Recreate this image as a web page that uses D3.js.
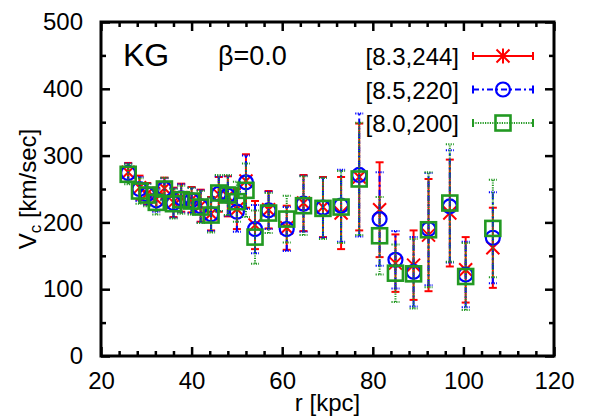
<!DOCTYPE html>
<html>
<head>
<meta charset="utf-8">
<script src="https://cdn.jsdelivr.net/npm/d3@7"></script>
<style>
  body { margin: 0; background: #fff; }
  text { font-family: "Liberation Sans", Arial, sans-serif; fill: #000; }
</style>
</head>
<body>
<svg id="chart" width="598" height="419"></svg>
<script>
// galactocentric radius of each tracer bin
const radius = [26, 28.5, 30.2, 32.2, 34, 36, 37.7, 40, 42, 44.3, 46, 48, 50, 52, 54, 57, 61, 64.7, 69, 73, 77, 81.5, 85, 89, 92.3, 97, 100.5, 106.5];

// [R0, V0] = [8.3, 244]
const vRed = [275, 252, 243, 235, 251, 230, 237, 234, 225, 213, 242, 239, 220, 262, 196, 219, 192, 229, 223, 214, 268, 219, 139, 136, 181, 214, 129, 162];
const eRed = [14, 18, 16, 17, 16, 22, 21, 19, 24, 25, 26, 30, 30, 40, 36, 28, 33, 42, 45, 54, 80, 71, 43, 52, 84, 80, 49, 60];
// [8.5, 220]
const vBlue = [274, 250, 242, 233, 250, 229, 236, 233, 224, 212, 243, 240, 216, 260, 190, 218, 190, 228, 222, 225, 271, 205, 144, 126, 190, 224, 122, 177];
const eBlue = [14, 18, 16, 17, 16, 22, 21, 19, 24, 25, 26, 30, 30, 40, 36, 28, 33, 42, 45, 54, 92, 70, 43, 52, 84, 84, 49, 68];
// [8.0, 200]
const vGreen = [272, 247, 241, 230, 250, 228, 234, 232, 223, 211, 244, 241, 231, 248, 178, 214, 205, 225, 221, 223, 265, 180, 124, 123, 189, 229, 119, 191];
const eGreen = [15, 19, 17, 18, 17, 22, 21, 20, 24, 26, 27, 30, 30, 40, 40, 30, 35, 44, 46, 54, 84, 58, 43, 52, 86, 88, 50, 73];

const legendLabels = ["[8.3,244]", "[8.5,220]", "[8.0,200]"];
const xTicks = [20, 40, 60, 80, 100, 120];
const yTicks = [0, 100, 200, 300, 400, 500];

const svg = d3.select("#chart");
const mLeft = 101, mRight = 554, mTop = 22, mBottom = 356;

const x = d3.scaleLinear().domain([20, 120]).range([mLeft, mRight]);
const y = d3.scaleLinear().domain([0, 500]).range([mBottom, mTop]);

const series = [
  { v: vRed, e: eRed, color: "#ff0000", dash: null, marker: "star" },
  { v: vBlue, e: eBlue, color: "#0000ff", dash: "6,3,2,3", marker: "circle" },
  { v: vGreen, e: eGreen, color: "#229922", dash: "1.2,1.2", marker: "square" }
];

// marker shapes
function drawMarker(g, type, cx, cy, color) {
  if (type === "star") {
    const s = 6.5;
    g.append("path")
      .attr("d", `M${cx - s},${cy - s}L${cx + s},${cy + s}M${cx - s},${cy + s}L${cx + s},${cy - s}M${cx},${cy - s - 1}L${cx},${cy + s + 1}`)
      .attr("stroke", color).attr("stroke-width", 2).attr("fill", "none");
  } else if (type === "circle") {
    g.append("circle").attr("cx", cx).attr("cy", cy).attr("r", 7)
      .attr("stroke", color).attr("stroke-width", 2.2).attr("fill", "none");
  } else {
    g.append("rect").attr("x", cx - 7.5).attr("y", cy - 7.5).attr("width", 15).attr("height", 15)
      .attr("stroke", color).attr("stroke-width", 2.6).attr("fill", "none");
  }
}

// error bars + markers
series.forEach(s => {
  const g = svg.append("g");
  radius.forEach((r, i) => {
    const cx = x(r), y0 = y(s.v[i] - s.e[i]), y1 = y(s.v[i] + s.e[i]);
    g.append("line").attr("x1", cx).attr("x2", cx).attr("y1", y0).attr("y2", y1)
      .attr("stroke", s.color).attr("stroke-width", 2)
      .attr("stroke-dasharray", s.dash);
    [y0, y1].forEach(yy => {
      g.append("line").attr("x1", cx - 4).attr("x2", cx + 4).attr("y1", yy).attr("y2", yy)
        .attr("stroke", s.color).attr("stroke-width", 2)
        .attr("stroke-dasharray", s.dash ? "1.2,1.2" : null);
    });
    drawMarker(g, s.marker, cx, y(s.v[i]), s.color);
  });
});

// axes, ticks pointing inward, mirrored on top and right
const xMinor = d3.range(20, 121, 4).filter(d => d % 20 !== 0);
const yMinor = d3.range(50, 500, 100);

function addAxis(axis, transform) {
  const g = svg.append("g").attr("transform", transform).call(axis);
  g.select(".domain").remove();
  g.selectAll("line").attr("stroke", "#000").attr("stroke-width", 2.5);
  g.selectAll("text").attr("font-size", 24).style("font-family", "Liberation Sans, Arial, sans-serif");
  return g;
}

addAxis(d3.axisBottom(x).tickValues(xTicks).tickSize(-9).tickPadding(16), `translate(0,${mBottom})`);
addAxis(d3.axisBottom(x).tickValues(xMinor).tickSize(-5).tickFormat(""), `translate(0,${mBottom})`);
addAxis(d3.axisTop(x).tickValues(xTicks).tickSize(-9).tickFormat(""), `translate(0,${mTop})`);
addAxis(d3.axisTop(x).tickValues(xMinor).tickSize(-5).tickFormat(""), `translate(0,${mTop})`);
addAxis(d3.axisLeft(y).tickValues(yTicks).tickSize(-9).tickPadding(18), `translate(${mLeft},0)`);
addAxis(d3.axisLeft(y).tickValues(yMinor).tickSize(-5).tickFormat(""), `translate(${mLeft},0)`);
addAxis(d3.axisRight(y).tickValues(yTicks).tickSize(-9).tickFormat(""), `translate(${mRight},0)`);
addAxis(d3.axisRight(y).tickValues(yMinor).tickSize(-5).tickFormat(""), `translate(${mRight},0)`);

svg.append("rect")
  .attr("x", mLeft).attr("y", mTop).attr("width", mRight - mLeft).attr("height", mBottom - mTop)
  .attr("fill", "none").attr("stroke", "#000").attr("stroke-width", 3);

// axis titles
svg.append("text").attr("x", (mLeft + mRight) / 2).attr("y", 411)
  .attr("text-anchor", "middle").attr("font-size", 24).text("r [kpc]");

const yl = svg.append("text")
  .attr("transform", `translate(36,${(mTop + mBottom) / 2}) rotate(-90)`)
  .attr("text-anchor", "middle").attr("font-size", 24);
yl.append("tspan").text("V");
yl.append("tspan").attr("font-size", 17).attr("dy", 5).text("c");
yl.append("tspan").attr("dy", -5).text(" [km/sec]");

// labels inside the frame
svg.append("text").attr("x", 123).attr("y", 66).attr("font-size", 32).text("KG");
svg.append("text").attr("x", 218).attr("y", 65).attr("font-size", 27).text("β=0.0");

// legend
const legend = svg.append("g");
legendLabels.forEach((label, i) => {
  const ly = 56 + i * 33.5;
  const s = series[i];
  legend.append("text").attr("x", 459).attr("y", ly + 9)
    .attr("text-anchor", "end").attr("font-size", 24).text(label);
  legend.append("line").attr("x1", 473).attr("x2", 533).attr("y1", ly).attr("y2", ly)
    .attr("stroke", s.color).attr("stroke-width", 2).attr("stroke-dasharray", s.dash);
  [473, 533].forEach(lx => {
    legend.append("line").attr("x1", lx).attr("x2", lx).attr("y1", ly - 4).attr("y2", ly + 4)
      .attr("stroke", s.color).attr("stroke-width", 2);
  });
  drawMarker(legend, s.marker, 503, ly, s.color);
});
</script>
</body>
</html>
